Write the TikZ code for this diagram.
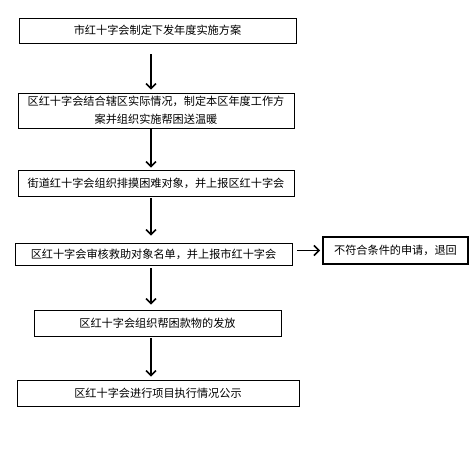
\documentclass[tikz,border=0pt]{standalone}
\usepackage{fontspec}
\setmainfont{Noto Sans CJK SC}
\usetikzlibrary{arrows.meta}
\tikzstyle{stepbox} = [draw=black, line width=0.8bp, rectangle, inner sep=0pt,
    align=center, font=\fontsize{11.2}{18}\selectfont]
\tikzstyle{rejectbox} = [stepbox, line width=2bp]
\tikzstyle{flow} = [draw=black, line width=1.5bp, -{Straight Barb[length=5bp,width=10bp,line width=1.5bp]}]

\begin{document}
\begin{tikzpicture}[x=1bp,y=-1bp]
\useasboundingbox (0,0) rectangle (472,460);
\coordinate (axis) at (151,0);
\node [stepbox, minimum width=277bp, minimum height=25bp] (cityplan) at (157.5,30.5)
    {市红十字会制定下发年度实施方案};
\node [stepbox, minimum width=276bp, minimum height=35bp, text width=266bp] (districtplan) at (156,110.5)
    {区红十字会结合辖区实际情况，制定本区年度工作方\\案并组织实施帮困送温暖};
\node [stepbox, minimum width=276bp, minimum height=26bp] (street) at (156,183)
    {街道红十字会组织排摸困难对象，并上报区红十字会};
\node [stepbox, minimum width=277bp, minimum height=22bp] (check) at (153.5,254)
    {区红十字会审核救助对象名单，并上报市红十字会};
\node [rejectbox, minimum width=145bp, minimum height=27bp] (reject) at (395.5,250.5)
    {不符合条件的申请，退回};
\node [stepbox, minimum width=247bp, minimum height=26bp] (deliver) at (157.5,323)
    {区红十字会组织帮困款物的发放};
\node [stepbox, minimum width=282bp, minimum height=26bp] (publish) at (158,393)
    {区红十字会进行项目执行情况公示};
% arrows
\draw[flow, shorten <=11bp, shorten >=3bp] (cityplan.south -| axis) -- (districtplan.north -| axis);
\draw[flow, shorten >=2bp] (districtplan.south -| axis) -- (street.north -| axis);
\draw[flow, shorten <=2bp, shorten >=7bp] (street.south -| axis) -- (check.north -| axis);
\draw[flow, shorten <=3bp, shorten >=5bp] (check.south -| axis) -- (deliver.north -| axis);
\draw[flow, shorten <=2bp, shorten >=3bp] (deliver.south -| axis) -- (publish.north -| axis);
\draw[flow, shorten <=5bp, shorten >=2bp] (reject.west -| check.east) -- (reject.west);
\end{tikzpicture}
\end{document}
